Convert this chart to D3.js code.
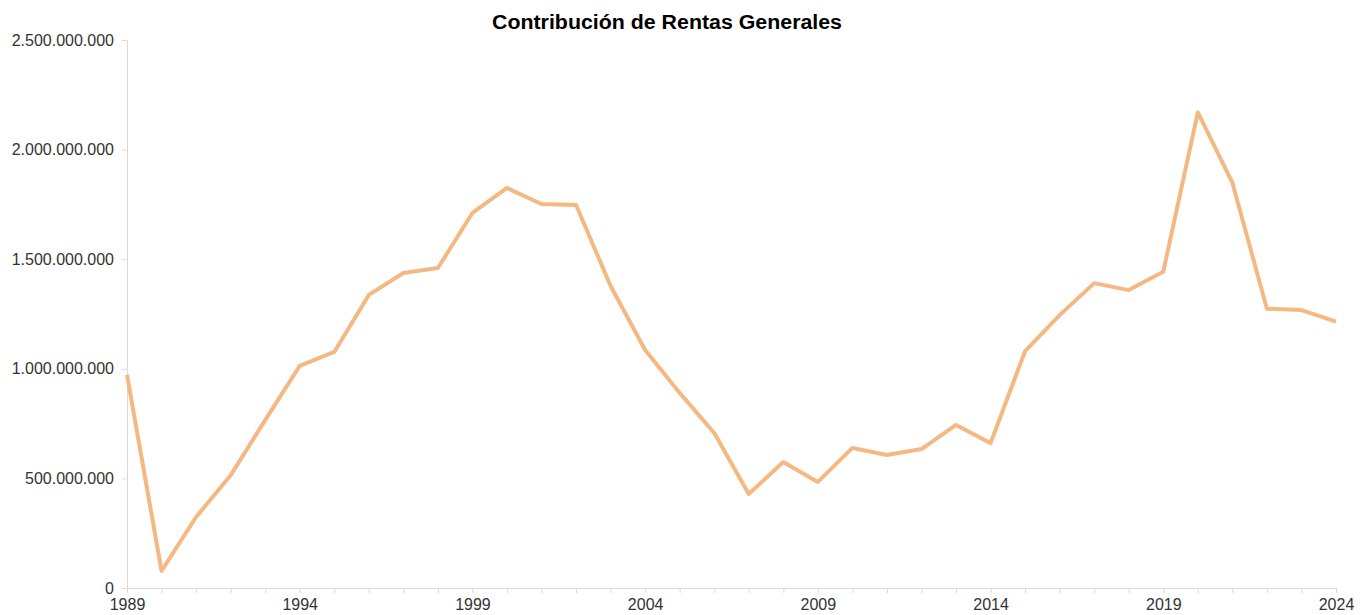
<!DOCTYPE html>
<html>
<head>
<meta charset="utf-8">
<script src="https://cdn.jsdelivr.net/npm/d3@7"></script>
<style>
  body { margin: 0; background: #fff; }
  text { font-family: "Liberation Sans", Arial, sans-serif; }
  .axis path, .axis line { stroke: #d9d9d9; }
  .axis text { fill: #333; font-size: 16px; }
</style>
</head>
<body>
<svg width="1369" height="615"></svg>
<script>
// años y contribución (estimada del gráfico)
var years = [1989,1990,1991,1992,1993,1994,1995,1996,1997,1998,
             1999,2000,2001,2002,2003,2004,2005,2006,2007,2008,
             2009,2010,2011,2012,2013,2014,2015,2016,2017,2018,
             2019,2020,2021,2022,2023,2024];
var values = [972e6,78e6,324e6,514e6,766e6,1013e6,1077e6,1337e6,1437e6,1460e6,
              1711e6,1825e6,1752e6,1747e6,1378e6,1086e6,890e6,707e6,429e6,575e6,
              484e6,639e6,607e6,634e6,744e6,661e6,1081e6,1245e6,1391e6,1359e6,
              1443e6,2170e6,1849e6,1274e6,1268e6,1215e6];
var yTicks = [0,500e6,1000e6,1500e6,2000e6,2500e6];
var xLabels = [1989,1994,1999,2004,2009,2014,2019,2024];
var title = "Contribución de Rentas Generales";

var svg = d3.select("svg"),
    margin = {top: 40, right: 33, bottom: 27, left: 127},
    width = svg.attr("width") - margin.left - margin.right,
    height = svg.attr("height") - margin.top - margin.bottom,
    g = svg.append("g").attr("transform", "translate(" + margin.left + "," + margin.top + ")");

var x = d3.scaleLinear().domain([1989, 2024]).range([0, width]),
    y = d3.scaleLinear().domain([0, 2500e6]).range([height, 0]);

var fmt = d3.formatLocale({decimal: ",", thousands: ".", grouping: [3], currency: ["", ""]}).format(",.0f");

g.append("g")
    .attr("class", "axis axis--x")
    .attr("transform", "translate(0," + height + ")")
    .call(d3.axisBottom(x).tickValues(years).tickSize(5).tickSizeOuter(0)
      .tickFormat(function(d) { return xLabels.indexOf(d) >= 0 ? d : ""; }))
    .call(function(a) { a.selectAll("text").attr("dy", "0.75em").attr("y", 10); });

g.append("g")
    .attr("class", "axis axis--y")
    .call(d3.axisLeft(y).tickValues(yTicks).tickSize(5).tickSizeOuter(0).tickFormat(fmt))
    .call(function(a) { a.selectAll("text").attr("x", -13); });

var line = d3.line()
    .x(function(d, i) { return x(years[i]); })
    .y(function(d) { return y(d); });

g.append("path")
    .datum(values)
    .attr("fill", "none")
    .attr("stroke", "#f4b983")
    .attr("stroke-width", 4)
    .attr("stroke-linejoin", "round")
    .attr("d", line);

svg.append("text")
    .attr("x", 667)
    .attr("y", 29)
    .attr("text-anchor", "middle")
    .attr("textLength", 350)
    .attr("lengthAdjust", "spacingAndGlyphs")
    .style("font-size", "20px")
    .style("font-weight", "bold")
    .attr("fill", "#000")
    .text(title);
</script>
</body>
</html>
